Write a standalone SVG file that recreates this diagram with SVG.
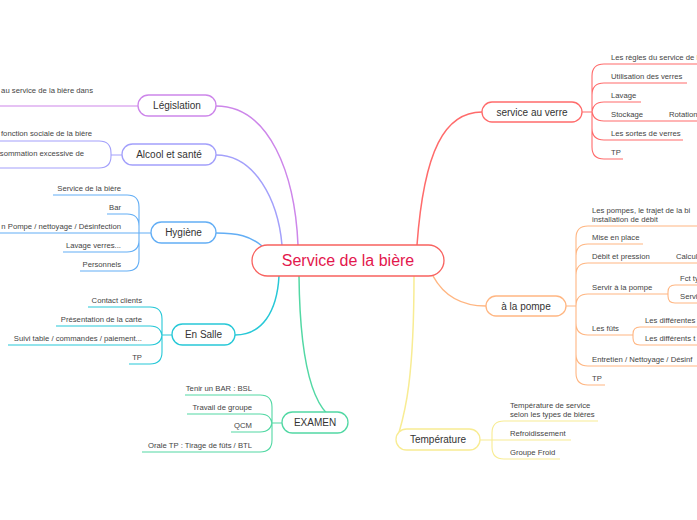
<svg xmlns="http://www.w3.org/2000/svg" width="697" height="520" viewBox="0 0 697 520">
<style>
text{font-family:"Liberation Sans","Noto Sans",sans-serif;}
.n{fill:#fff;stroke-width:1.3;}
.lbl{font-size:10px;fill:#333;text-anchor:middle;}
.c{font-size:7.7px;fill:#444;}
.e{text-anchor:end;}
.b{fill:none;stroke-width:1.5;}
.s{fill:none;stroke-width:1.1;}
.red{stroke:#ff6b6b;} .org{stroke:#ffb682;} .yel{stroke:#f8ec93;} .grn{stroke:#52d8a4;}
.teal{stroke:#27c8d7;} .blu{stroke:#63aef5;} .per{stroke:#a3a0fb;} .pur{stroke:#cd86ea;}
</style>
<rect width="697" height="520" fill="#fff"/>
<g id="connectors">
  <path class="b pur" d="M216,106 C270,106 295,175 298,245"/>
  <path class="b per" d="M216,155 C255,155 278,200 282,245"/>
  <path class="b blu" d="M216,233 C238,233 250,236 262,246"/>
  <path class="b teal" d="M235,335 C262,335 277,312 279,276"/>
  <path class="b grn" d="M299,276 C300,370 315,423 348,423"/>
  <path class="b yel" d="M414,276 C414,395 402,420 397,440"/>
  <path class="b org" d="M433,276 C445,298 463,306 486,306"/>
  <path class="b red" d="M417,245 C424,150 445,112 482,112"/>
  <path class="s pur" d="M0,106 H138"/>
  <path class="s per" d="M0,141 H99 Q111,141 111,153 V155 M0,168 H99 Q111,168 111,156 V155 M111,155 H122"/>
  <path class="s blu" d="M53,195 H127 Q139,195 139,207 V259 Q139,271 127,271 H80 M107,214 H127 Q139,214 139,226 M0,233 H151 M63,252 H127 Q139,252 139,240"/>
  <path class="s teal" d="M88,307 H150 Q162,307 162,319 V352 Q162,364 150,364 H129 M56,326 H150 Q162,326 162,338 M8,345 H150 Q162,345 162,333 M162,335 H172"/>
  <path class="s grn" d="M185,395 H260 Q272,395 272,407 V440 Q272,452 260,452 H142 M187,414 H260 Q272,414 272,426 M231,432 H260 Q272,432 272,420 M272,423 H282"/>
  <path class="s red" d="M582,112 H592 M697,64 H604 Q592,64 592,76 V147 Q592,159 604,159 H623 M687,83 H604 Q592,83 592,95 M641,102 H604 Q592,102 592,114 M697,121 H604 Q592,121 592,109 M683,140 H604 Q592,140 592,128"/>
  <path class="s org" d="M566,306 H576 M697,226 H588 Q576,226 576,238 V373 Q576,385 588,385 H605 M643,244 H588 Q576,244 576,256 M697,263 H588 Q576,263 576,275 M668,294 H588 Q576,294 576,306 M633,335 H588 Q576,335 576,323 M697,366 H588 Q576,366 576,354"/>
  <path class="s org" d="M697,285 H675 Q668,285 668,292 V296 Q668,303 675,303 H697"/>
  <path class="s org" d="M697,327 H640 Q633,327 633,334 V338 Q633,345 640,345 H697"/>
  <path class="s yel" d="M480,440 H492 M598,421 H504 Q492,421 492,433 V447 Q492,459 504,459 H560 M571,440 H492"/>
</g>
<g id="center">
  <rect class="n" x="252" y="245" width="192" height="31" rx="15.5" stroke="#f8625f" stroke-width="2"/>
  <text x="348" y="266" font-size="16" fill="#e3174d" text-anchor="middle">Service de la bière</text>
</g>
<g id="legislation">
  <rect class="n pur" x="138" y="95" width="78" height="21" rx="10.5"/>
  <text class="lbl" x="177" y="109">Législation</text>
  <text class="c e" x="93" y="92.5">au service de la bière dans</text>
</g>
<g id="alcool">
  <rect class="n per" x="122" y="144" width="94" height="21" rx="10.5"/>
  <text class="lbl" x="169" y="158">Alcool et santé</text>
  <text class="c e" x="92" y="135.5">fonction sociale de la bière</text>
  <text class="c e" x="84" y="155.5">sommation excessive de</text>
</g>
<g id="hygiene">
  <rect class="n blu" x="151" y="222" width="65" height="21" rx="10.5"/>
  <text class="lbl" x="183.5" y="236">Hygiène</text>
  <text class="c e" x="121" y="190.5">Service de la bière</text>
  <text class="c e" x="121" y="209.5">Bar</text>
  <text class="c e" x="121" y="228.5">n Pompe / nettoyage / Désinfection</text>
  <text class="c e" x="121" y="247.5">Lavage verres...</text>
  <text class="c e" x="121" y="266.5">Personnels</text>
</g>
<g id="ensalle">
  <rect class="n teal" x="172" y="324" width="63" height="21" rx="10.5"/>
  <text class="lbl" x="203.5" y="338">En Salle</text>
  <text class="c e" x="142" y="302.5">Contact clients</text>
  <text class="c e" x="142" y="321.5">Présentation de la carte</text>
  <text class="c e" x="142" y="340.5">Suivi table / commandes / paiement...</text>
  <text class="c e" x="142" y="359.5">TP</text>
</g>
<g id="examen">
  <rect class="n grn" x="282" y="412" width="66" height="21" rx="10.5"/>
  <text class="lbl" x="315" y="426">EXAMEN</text>
  <text class="c e" x="252" y="390.5">Tenir un BAR : BSL</text>
  <text class="c e" x="252" y="409.5">Travail de groupe</text>
  <text class="c e" x="252" y="427.5">QCM</text>
  <text class="c e" x="252" y="447.5">Orale TP : Tirage de fûts / BTL</text>
</g>
<g id="temperature">
  <rect class="n yel" x="396" y="429" width="84" height="21" rx="10.5"/>
  <text class="lbl" x="438" y="443">Température</text>
  <text class="c" x="510" y="407.5">Température de service</text>
  <text class="c" x="510" y="416.5">selon les types de bières</text>
  <text class="c" x="510" y="435.5">Refroidissement</text>
  <text class="c" x="510" y="454.5">Groupe Froid</text>
</g>
<g id="pompe">
  <rect class="n org" x="486" y="296" width="80" height="20" rx="10"/>
  <text class="lbl" x="526" y="309.5">à la pompe</text>
  <text class="c" x="592" y="212.5">Les pompes, le trajet de la bi</text>
  <text class="c" x="592" y="221.5">installation de débit</text>
  <text class="c" x="592" y="239.5">Mise en place</text>
  <text class="c" x="592" y="258.5">Débit et pression</text>
  <text class="c" x="676" y="258.5">Calcul</text>
  <text class="c" x="592" y="289.5">Servir à la pompe</text>
  <text class="c" x="680" y="280.5">Fct ty</text>
  <text class="c" x="680" y="298.5">Servi</text>
  <text class="c" x="592" y="330.5">Les fûts</text>
  <text class="c" x="645" y="322.5">Les différentes</text>
  <text class="c" x="645" y="340.5">Les différents t</text>
  <text class="c" x="592" y="361.5">Entretien / Nettoyage / Désinf</text>
  <text class="c" x="592" y="380.5">TP</text>
</g>
<g id="verre">
  <rect class="n red" x="482" y="102" width="100" height="20" rx="10"/>
  <text class="lbl" x="532" y="115.5">service au verre</text>
  <text class="c" x="611" y="59.5">Les règles du service de l</text>
  <text class="c" x="611" y="78.5">Utilisation des verres</text>
  <text class="c" x="611" y="97.5">Lavage</text>
  <text class="c" x="611" y="116.5">Stockage</text>
  <text class="c" x="669" y="116.5">Rotation</text>
  <text class="c" x="611" y="135.5">Les sortes de verres</text>
  <text class="c" x="611" y="154.5">TP</text>
</g>
</svg>
